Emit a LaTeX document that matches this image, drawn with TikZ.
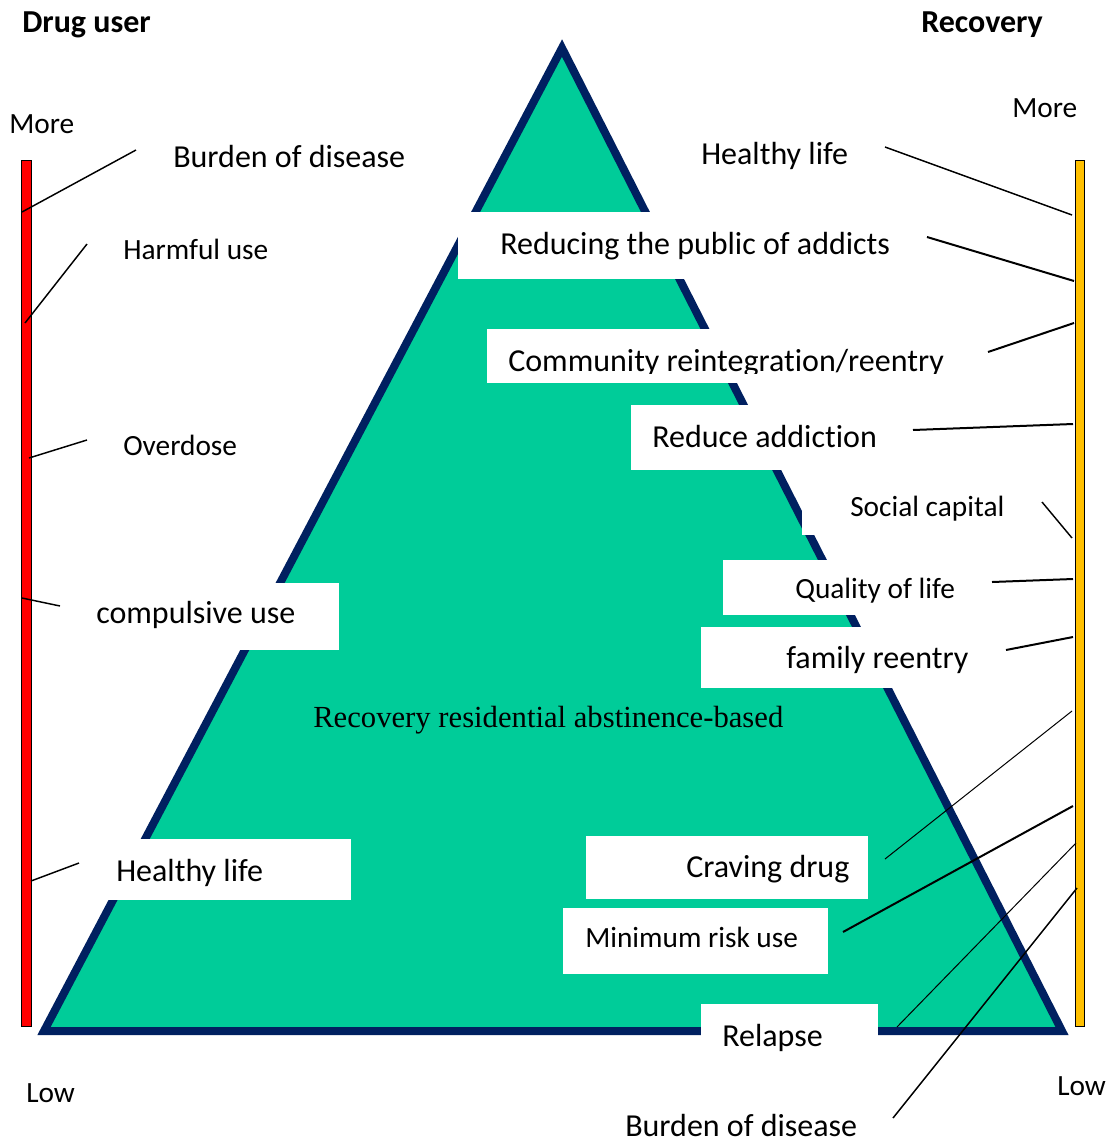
\documentclass[tikz,border=0pt]{standalone}
\usepackage{fontspec}
\setmainfont{Carlito}[Ligatures=NoCommon]
\newfontfamily\serifface{Liberation Serif}
% keep "t" and "i" as separate glyphs
\newcommand\tisplit{\kern0pt\relax}
\definecolor{pyrfill}{HTML}{00CC99}
\definecolor{pyredge}{HTML}{002060}
\definecolor{barred}{HTML}{FF0000}
\definecolor{baryellow}{HTML}{FFC000}
\begin{document}
\begin{tikzpicture}[x=0.75pt,y=-0.75pt,
  lab/.style={inner sep=0pt, anchor=base west, font=\fontsize{24}{28}\selectfont},
  labs/.style={lab, font=\fontsize{22}{26}\selectfont},
  head/.style={lab, font=\bfseries\fontsize{24}{28}\selectfont},
  whitebox/.style={fill=white, draw=none},
  conn/.style={line width=1.1pt},
  connthick/.style={line width=1.5pt},
  connthin/.style={line width=0.75pt},
  scalebar/.style={draw=black, line width=0.75pt}]
\useasboundingbox (0,0) rectangle (1112,1143);

% pyramid
\filldraw[fill=pyrfill, draw=pyredge, line width=6pt, line join=miter]
  (562,48) -- (44,1031) -- (1062,1031) -- cycle;

% white label panels over the pyramid
\path[whitebox] (458,212) rectangle (912,279);
\path[whitebox] (487,329) rectangle (980,383);
\path[whitebox] (631,405) rectangle (905,470);
\path[whitebox] (802,475) rectangle (1035,535);
\path[whitebox] (723,560) rectangle (985,615);
\path[whitebox] (701,627) rectangle (1000,688);
\path[whitebox] (586,836) rectangle (868,899);
\path[whitebox] (563,908) rectangle (828,974);
\path[whitebox] (701,1004) rectangle (878,1062);
\path[whitebox] (66,583) rectangle (339,650);
\path[whitebox] (100,839) rectangle (351,900);

% scale bars
\path[scalebar, fill=barred] (21,160) rectangle (31,1026);
\path[scalebar, fill=baryellow] (1075,160) rectangle (1084,1026);

% headings and scale ends
\node[head] (userhead) at (22,32) {Drug user};
\node[head] (rechead) at (921,32) {Recovery};
\node[labs] (moreL) at (9,133) {More};
\node[labs] (lowL) at (26,1102) {Low};
\node[labs] (moreR) at (1012,117) {More};
\node[labs] (lowR) at (1057,1095) {Low};

% drug user side
\node[lab] (burdenL) at (173,167) {Burden of disease};
\node[labs] (harmful) at (123,259) {Harmful use};
\node[labs] (overdose) at (123,455) {Overdose};
\node[lab] (compulsive) at (96,623) {compulsive use};
\node[lab] (healthyL) at (116,881) {Healthy life};

% recovery side
\node[lab] (healthyR) at (701,164) {Healthy life};
\node[lab] (reducing) at (500,254) {Reducing the public of addicts};
\begin{scope}
  \clip (480,320) rectangle (1000,373);
  \node[lab] (community) at (508,371) {Community reintegrat\tisplit ion/reentry};
\end{scope}
\node[lab] (reduce) at (652,447) {Reduce addict\tisplit ion};
\node[labs] (social) at (850,516) {Social capital};
\node[labs] (quality) at (795,598) {Quality of life};
\node[lab] (family) at (786,668) {family reentry};
\node[lab, font=\serifface\fontsize{23}{27}\selectfont] (centre) at (313,727) {Recovery residential abstinence-based};
\node[lab] (craving) at (686,877) {Craving drug};
\node[labs] (minimum) at (585,947) {Minimum risk use};
\node[lab] (relapse) at (722,1046) {Relapse};
\node[lab] (burdenR) at (625,1136) {Burden of disease};

% connector end points
\coordinate (bL1) at (136,150);  \coordinate (sL1) at (22,212);
\coordinate (bL2) at (87,244);   \coordinate (sL2) at (25,323);
\coordinate (bL3) at (87,440);   \coordinate (sL3) at (29,458);
\coordinate (bL4) at (60,606);   \coordinate (sL4) at (22,598);
\coordinate (bL5) at (79,863);   \coordinate (sL5) at (31,881);

\coordinate (bR1) at (885,147);  \coordinate (sR1) at (1072,215);
\coordinate (bR2) at (927,237);  \coordinate (sR2) at (1074,281);
\coordinate (bR3) at (988,352);  \coordinate (sR3) at (1074,323);
\coordinate (bR4) at (913,430);  \coordinate (sR4) at (1073,424);
\coordinate (bR5) at (1042,502); \coordinate (sR5) at (1072,538);
\coordinate (bR6) at (992,582);  \coordinate (sR6) at (1073,579);
\coordinate (bR7) at (1006,650); \coordinate (sR7) at (1073,637);
\coordinate (bR8) at (885,859);  \coordinate (sR8) at (1072,711);
\coordinate (bR9) at (843,932);  \coordinate (sR9) at (1073,806);
\coordinate (bR10) at (897,1027); \coordinate (sR10) at (1076,843);
\coordinate (bR11) at (893,1118); \coordinate (sR11) at (1077,888);

% connectors
\draw[conn] (bL1) -- (sL1);
\draw[conn] (bL2) -- (sL2);
\draw[conn] (bL3) -- (sL3);
\draw[conn] (bL4) -- (sL4);
\draw[conn] (bL5) -- (sL5);
\draw[conn] (bR1) -- (sR1);
\draw[connthick] (bR2) -- (sR2);
\draw[connthick] (bR3) -- (sR3);
\draw[connthick] (bR4) -- (sR4);
\draw[conn] (bR5) -- (sR5);
\draw[connthick] (bR6) -- (sR6);
\draw[connthick] (bR7) -- (sR7);
\draw[connthin] (bR8) -- (sR8);
\draw[connthick] (bR9) -- (sR9);
\draw[connthin] (bR10) -- (sR10);
\draw[conn] (bR11) -- (sR11);
\end{tikzpicture}
\end{document}
